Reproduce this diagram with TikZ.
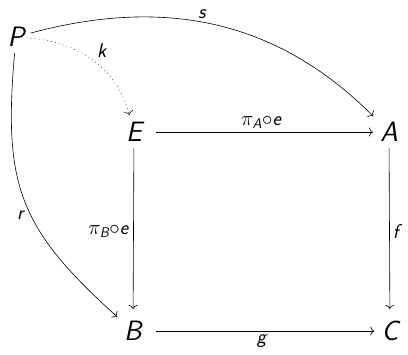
\documentclass[tikz,border=0pt]{standalone}
\usepackage{amsmath}
\usepackage{fontspec}
\usetikzlibrary{arrows.meta}

\begin{document}
\begin{tikzpicture}[x=1pt, y=1pt, line width=0.6pt,
  obj/.style={font=\fontsize{28}{30}\selectfont\sffamily\itshape, inner sep=6pt},
  lbl/.style={font=\fontsize{20}{22}\selectfont\sffamily\itshape, inner sep=3pt},
  map/.style={-{To[length=4pt,width=9pt]}, shorten >=1pt}]
  \useasboundingbox (0,0) rectangle (408,355);
  % objects
  \node[obj] (P) at (16,318) {P};
  \node[obj] (E) at (134,223) {E};
  \node[obj] (A) at (389,223) {A};
  \node[obj] (B) at (133,24) {B};
  \node[obj] (C) at (390,24) {C};
  % square
  \draw[map, shorten <=8pt] (E) -- node[lbl, above] {$\pi_\text{A}{\circ}\text{e}$} (A);
  \draw[map, shorten >=6pt] (E) -- node[lbl, left, inner sep=5pt] {$\pi_\text{B}{\circ}\text{e}$} (B);
  \draw[map, shorten >=6pt] (A) -- node[lbl, right] {f} (C);
  \draw[map, shorten <=8pt] (B) -- node[lbl, below] {g} (C);
  % curved maps out of P
  \draw[map] (P) to[out=15, in=135] node[lbl, pos=0.46, above] {s} (A);
  \draw[map, dash pattern=on 0.6pt off 3.5pt] (P) to[out=-5, in=105] node[lbl, pos=0.5, above right] {k} (E);
  \draw[map] (P) to[out=-95, in=138, looseness=1.2] node[lbl, pos=0.56, left, inner sep=7pt] {r} (B);
\end{tikzpicture}
\end{document}
